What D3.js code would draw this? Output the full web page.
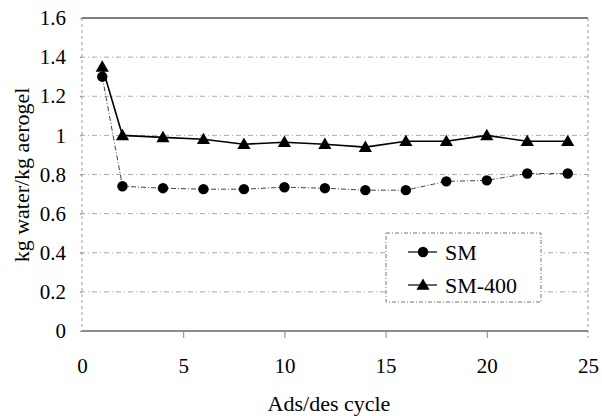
<!DOCTYPE html>
<html>
<head>
<meta charset="utf-8">
<script src="https://cdn.jsdelivr.net/npm/d3@7"></script>
<style>
  body { margin: 0; background: #fff; }
  svg { display: block; }
  svg text { font-family: "Liberation Serif", "Tinos", "Times New Roman", "DejaVu Serif", serif !important; }
</style>
</head>
<body>
<svg width="602" height="416"></svg>
<script>
// data
const cycles = [1, 2, 4, 6, 8, 10, 12, 14, 16, 18, 20, 22, 24];
const sm = [1.30, 0.74, 0.73, 0.725, 0.725, 0.735, 0.73, 0.72, 0.72, 0.765, 0.77, 0.805, 0.805];
const sm400 = [1.35, 1.00, 0.99, 0.98, 0.955, 0.965, 0.955, 0.94, 0.97, 0.97, 1.00, 0.97, 0.97];
const xTicks = [0, 5, 10, 15, 20, 25];
const yTicks = [0, 0.2, 0.4, 0.6, 0.8, 1, 1.2, 1.4, 1.6];
const seriesNames = ["SM", "SM-400"];

const svg = d3.select("svg");
const pLeft = 82, pRight = 588, pTop = 18, pBottom = 331;

const x = d3.scaleLinear().domain([0, 25]).range([pLeft, pRight]);
const y = d3.scaleLinear().domain([0, 1.6]).range([pBottom, pTop]);

// gridlines (dash-dot gray)
svg.append("g").selectAll("line")
  .data(yTicks.filter(t => t > 0 && t < 1.6))
  .enter().append("line")
  .attr("x1", pLeft - 2).attr("x2", pRight)
  .attr("y1", d => y(d)).attr("y2", d => y(d))
  .attr("stroke", "#aaa").attr("stroke-width", 1)
  .attr("stroke-dasharray", "5,3,1,3");

// frame: top solid, left/right dotted, bottom solid
svg.append("line").attr("x1", pLeft).attr("x2", pRight).attr("y1", y(1.6)).attr("y2", y(1.6))
  .attr("stroke", "#555").attr("stroke-width", 1.3);
svg.append("line").attr("x1", pLeft).attr("x2", pLeft).attr("y1", pTop).attr("y2", pBottom)
  .attr("stroke", "#999").attr("stroke-dasharray", "3,3");
svg.append("line").attr("x1", pRight).attr("x2", pRight).attr("y1", pTop).attr("y2", pBottom + 7)
  .attr("stroke", "#999").attr("stroke-dasharray", "3,3");

const xAxis = d3.axisBottom(x).tickValues(xTicks).tickSize(7).tickPadding(20).tickFormat(d3.format("d"));
const gx = svg.append("g").attr("transform", `translate(0,${pBottom})`).call(xAxis);
gx.select(".domain").attr("stroke", "#666").attr("stroke-width", 1.3).attr("d", `M${pLeft},0H${pRight}`);
gx.selectAll(".tick line").attr("stroke", "#888");
gx.selectAll(".tick").filter(d => d === 0 || d === 25).select("line").remove();
gx.selectAll("text").attr("font-size", 21).attr("fill", "#000");

const yAxis = d3.axisLeft(y).tickValues(yTicks).tickSize(2).tickPadding(14)
  .tickFormat(d => d === 0 || d === 1 ? d3.format("d")(d) : d3.format(".1f")(d));
const gy = svg.append("g").attr("transform", `translate(${pLeft},0)`).call(yAxis);
gy.select(".domain").remove();
gy.selectAll(".tick line").attr("stroke", "#999");
gy.selectAll("text").attr("font-size", 21).attr("fill", "#000");

// axis titles
svg.append("text").attr("x", (pLeft + pRight) / 2 - 6).attr("y", 411)
  .attr("text-anchor", "middle").attr("font-size", 22).text("Ads/des cycle");
svg.append("text").attr("transform", "translate(29,175) rotate(-90)")
  .attr("text-anchor", "middle").attr("font-size", 22).text("kg water/kg aerogel");

// series
const pts = (vals) => cycles.map((c, i) => [c, vals[i]]);
const line = d3.line().x(d => x(d[0])).y(d => y(d[1]));

svg.append("path").datum(pts(sm)).attr("d", line)
  .attr("fill", "none").attr("stroke", "#444").attr("stroke-width", 1)
  .attr("stroke-dasharray", "5,2,1,2");
svg.append("path").datum(pts(sm400)).attr("d", line)
  .attr("fill", "none").attr("stroke", "#000").attr("stroke-width", 1.6);

const tri = d3.symbol().type(d3.symbolTriangle).size(75);
svg.append("g").selectAll("circle").data(pts(sm)).enter().append("circle")
  .attr("cx", d => x(d[0])).attr("cy", d => y(d[1])).attr("r", 5.2).attr("fill", "#000");
svg.append("g").selectAll("path").data(pts(sm400)).enter().append("path")
  .attr("d", tri).attr("transform", d => `translate(${x(d[0])},${y(d[1]) + 1})`).attr("fill", "#000");

// legend
const lg = svg.append("g");
lg.append("rect").attr("x", 386).attr("y", 233).attr("width", 155).attr("height", 69)
  .attr("fill", "#fff").attr("stroke", "#777").attr("stroke-dasharray", "4,2,1,2");
seriesNames.forEach((name, i) => {
  const cy = 252 + i * 33;
  lg.append("line").attr("x1", 408).attr("x2", 437).attr("y1", cy).attr("y2", cy)
    .attr("stroke", "#000").attr("stroke-width", 1.2);
  if (i === 0) {
    lg.append("circle").attr("cx", 423).attr("cy", cy).attr("r", 5.2).attr("fill", "#000");
  } else {
    lg.append("path").attr("d", tri).attr("transform", `translate(423,${cy + 1})`).attr("fill", "#000");
  }
  lg.append("text").attr("x", 445).attr("y", cy + 8).attr("font-size", 22).text(name);
});
</script>
</body>
</html>
